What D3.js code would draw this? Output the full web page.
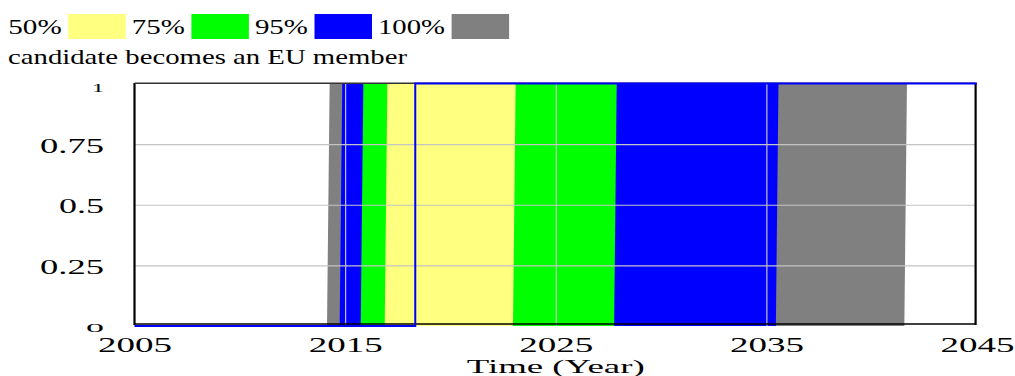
<!DOCTYPE html>
<html>
<head>
<meta charset="utf-8">
<script src="https://cdn.jsdelivr.net/npm/d3@7"></script>
<style>
  body { margin: 0; background: #fff; }
  svg { display: block; }
  text { font-family: "Liberation Serif", "Times New Roman", serif; fill: #000; }
</style>
</head>
<body>
<svg id="chart" width="1015" height="376"></svg>
<script>
// Sensitivity bands: the year each confidence band opens (first runs join)
// and closes (last runs of the band have joined).
const bandLabels = ["50%", "75%", "95%", "100%"];
const bandColors = ["#ffff80", "#00ff00", "#0000ff", "#808080"];
const bandOpen  = [2016.88, 2015.74, 2014.74, 2014.14];
const bandClose = [2022.97, 2027.77, 2035.45, 2041.55];
const stepDt = 0.125; // simulation time step

// Base run of "candidate becomes an EU member"
const refYears  = [2005, 2018.33, 2018.33, 2045];
const refValues = [0, 0, 1, 1];

const xTicks = [2005, 2015, 2025, 2035, 2045];
const xTickLabels = ["2005", "2015", "2025", "2035", "2045"];
const yTicks = [0, 0.25, 0.5, 0.75, 1];
const yTickLabels = ["0", "0.25", "0.5", "0.75", "1"];

const title = "candidate becomes an EU member";
const xTitle = "Time (Year)";

const svg = d3.select("#chart");
const x = d3.scaleLinear().domain([2005, 2045]).range([134.5, 977]);
const y = d3.scaleLinear().domain([0, 1]).range([326, 83.5]);

// stretched serif text helper
function wide(sel, w) {
  return sel.attr("textLength", w).attr("lengthAdjust", "spacingAndGlyphs");
}

// ---- bands (widest drawn first) ----
const area = d3.area().x(d => x(d.t)).y0(d => y(d.lo)).y1(d => y(d.hi));
function bandSeries(i) {
  const a = bandOpen[i], b = bandClose[i];
  return [
    { t: 2005, lo: 0, hi: 0 },
    { t: a, lo: 0, hi: 0 },
    { t: a + stepDt, lo: 0, hi: 1 },
    { t: b, lo: 0, hi: 1 },
    { t: b + stepDt, lo: 1, hi: 1 },
    { t: 2045, lo: 1, hi: 1 }
  ];
}
svg.append("g").selectAll("path")
  .data(d3.range(bandLabels.length).reverse())
  .join("path")
  .attr("d", i => area(bandSeries(i)))
  .attr("fill", i => bandColors[i]);

// ---- grid ----
const plotW = x(2045) - x(2005);
const plotH = y(0) - y(1);
const gy = svg.append("g").attr("transform", `translate(${x(2005)},0)`)
  .call(d3.axisLeft(y).tickValues([0.25, 0.5, 0.75]).tickSize(-plotW + 2).tickFormat(""));
const gx = svg.append("g").attr("transform", `translate(0,${y(0)})`)
  .call(d3.axisBottom(x).tickValues([2015, 2025, 2035]).tickSize(-plotH).tickFormat(""));
[gy, gx].forEach(g => {
  g.select(".domain").remove();
  g.selectAll(".tick line").attr("stroke", "#c4c4c4").attr("stroke-width", 1.2);
});

// ---- frame ----
const frame = svg.append("g").attr("stroke", "#000").attr("fill", "none");
frame.append("line").attr("x1", x(2005)).attr("x2", x(2005)).attr("y1", y(1) - 0.5).attr("y2", y(0) - 1).attr("stroke-width", 2.2);
frame.append("line").attr("x1", 975.6).attr("x2", 975.6).attr("y1", y(1) - 0.5).attr("y2", y(0) - 1).attr("stroke-width", 2.2);
frame.append("line").attr("x1", x(2005)).attr("x2", 975.6).attr("y1", y(1) - 0.3).attr("y2", y(1) - 0.3).attr("stroke-width", 1.4).attr("stroke", "#333");
frame.append("line").attr("x1", x(2005)).attr("x2", 975.6).attr("y1", y(0) - 2).attr("y2", y(0) - 2).attr("stroke-width", 1.4);

// ---- base run line ----
const line = d3.line().x(d => x(d[0])).y(d => y(d[1]));
svg.append("path")
  .attr("d", line(d3.zip(refYears, refValues)))
  .attr("fill", "none").attr("stroke", "#0000ff").attr("stroke-width", 2);

// ---- y tick labels ----
const yLabelW = { "0": 18, "0.25": 64, "0.5": 45, "0.75": 64, "1": 12 };
const yAxis = svg.append("g").attr("transform", `translate(${x(2005)},0)`)
  .call(d3.axisLeft(y).tickValues(yTicks).tickSize(0).tickFormat((d, i) => yTickLabels[i]));
yAxis.select(".domain").remove();
yAxis.selectAll(".tick text").each(function (d, i) {
  const lab = yTickLabels[i];
  const w = yLabelW[lab];
  const end = d === 0 || d === 1;
  const t = d3.select(this)
    .attr("font-size", 20).attr("text-anchor", "start")
    .attr("x", null).attr("dy", null);
  wide(t, w);
  // labels at the ends of the axis are drawn compressed
  const base = d === 1 ? 8.2 : d === 0 ? 5.8 : 8;
  t.attr("transform", `translate(${-30.5 - w},${base}) scale(1,${end ? 0.62 : 1})`);
});

// ---- x tick labels ----
const xAxis = svg.append("g").attr("transform", `translate(0,${y(0)})`)
  .call(d3.axisBottom(x).tickValues(xTicks).tickSize(0).tickFormat((d, i) => xTickLabels[i]));
xAxis.select(".domain").remove();
xAxis.selectAll(".tick text").each(function () {
  const t = d3.select(this).attr("font-size", 22).attr("text-anchor", "start")
    .attr("x", -37).attr("y", 26).attr("dy", null);
  wide(t, 74);
});

// axis title
wide(svg.append("text").attr("x", x(2025) - 89).attr("y", 373).attr("font-size", 19).text(xTitle), 178);

// ---- legend ----
const legendTextW = [53.4, 53, 53, 67];
let lx = 8.3;
const legend = svg.append("g");
bandLabels.forEach((lab, i) => {
  wide(legend.append("text").attr("x", lx).attr("y", 34).attr("font-size", 21.5).text(lab), legendTextW[i]);
  lx += legendTextW[i] + 6.6;
  legend.append("rect").attr("x", lx).attr("y", 14).attr("width", 57.5).attr("height", 25)
    .attr("fill", bandColors[i]);
  lx += 57.5 + 6;
});

// chart title
wide(svg.append("text").attr("x", 8).attr("y", 63.5).attr("font-size", 21).text(title), 399);
</script>
</body>
</html>
